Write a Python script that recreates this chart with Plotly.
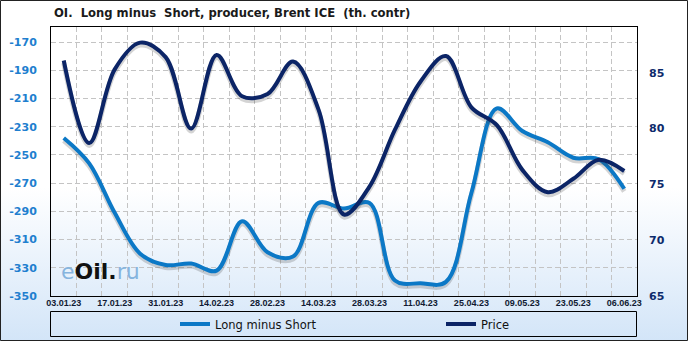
import base64
import plotly.graph_objects as go

# ---------------- data ----------------
dates = ["03.01.23", "10.01.23", "17.01.23", "24.01.23", "31.01.23", "07.02.23",
         "14.02.23", "21.02.23", "28.02.23", "07.03.23", "14.03.23", "21.03.23",
         "28.03.23", "04.04.23", "11.04.23", "18.04.23", "25.04.23", "02.05.23",
         "09.05.23", "16.05.23", "23.05.23", "30.05.23", "06.06.23"]
long_minus_short = [-238, -256, -291, -320, -328, -327, -332, -297, -319, -322,
                    -284, -288, -284, -339, -341, -340, -277, -217, -233, -241,
                    -252, -253, -274]
price = [86.1, 78.7, 85.3, 87.7, 86.4, 80.0, 86.6, 82.9, 83.1, 86.0, 81.7, 72.3,
         74.8, 79.9, 84.2, 86.5, 81.9, 80.3, 76.3, 74.3, 75.5, 77.2, 76.2]
left_ticks = [-350, -330, -310, -290, -270, -250, -230, -210, -190, -170]
left_ticktext = ["-350", "-330", "-310", "-290", "-270", "-250", "-230", "-210", "-190", "-170"]
right_ticks = [65, 70, 75, 80, 85]

# ---------------- geometry ----------------
W, H = 688, 341
ML, MR, MT, MB = 51, 51, 27, 45
PW, PH = W - ML - MR, H - MT - MB
Y1 = (-350, -159.3)
Y2 = (65, 89.1)

def px(xp):
    return (xp - ML) / PW

def py(yp):
    return 1 - (yp - MT) / PH

LIGHT = "#0b78c6"
DARK = "#0b2466"
SHADOW = "rgba(60,60,60,0.22)"
shadow_px = 2.5
sh1 = shadow_px * (Y1[1] - Y1[0]) / PH
sh2 = shadow_px * (Y2[1] - Y2[0]) / PH

xi = list(range(len(dates)))

fig = go.Figure()
# soft drop shadows (style only)
fig.add_trace(go.Scatter(x=xi, y=[v - sh1 for v in long_minus_short], mode="lines",
                         line=dict(color=SHADOW, width=5, shape="spline", smoothing=1.0),
                         yaxis="y", showlegend=False, hoverinfo="skip"))
fig.add_trace(go.Scatter(x=xi, y=[v - sh2 for v in price], mode="lines",
                         line=dict(color=SHADOW, width=5, shape="spline", smoothing=1.0),
                         yaxis="y2", showlegend=False, hoverinfo="skip"))
fig.add_trace(go.Scatter(x=xi, y=long_minus_short, name="Long minus Short",
                         mode="lines", line=dict(color=LIGHT, width=4, shape="spline", smoothing=1.0),
                         yaxis="y", legend="legend"))
fig.add_trace(go.Scatter(x=xi, y=price, name="Price",
                         mode="lines", line=dict(color=DARK, width=4, shape="spline", smoothing=1.0),
                         yaxis="y2", legend="legend2"))

svg = f'''<svg xmlns="http://www.w3.org/2000/svg" width="{W}" height="{H}">
<defs><linearGradient id="g" x1="0" y1="0" x2="0" y2="1">
<stop offset="0" stop-color="#ffffff"/><stop offset="0.55" stop-color="#ffffff"/>
<stop offset="1" stop-color="#d3e5f8"/></linearGradient></defs>
<rect width="{W}" height="{H}" fill="url(#g)"/></svg>'''
src = "data:image/svg+xml;base64," + base64.b64encode(svg.encode()).decode()

gridc = "#c4c4c4"
legfont = dict(family="DejaVu Sans", size=11.5, color="#111111")
fig.update_layout(
    width=W, height=H,
    margin=dict(l=ML, r=MR, t=MT, b=MB, pad=0, autoexpand=False),
    paper_bgcolor="white",
    plot_bgcolor="rgba(0,0,0,0)",
    images=[dict(source=src, xref="paper", yref="paper", x=px(0), y=py(0),
                 sizex=W / PW, sizey=H / PH, sizing="stretch", xanchor="left",
                 yanchor="top", layer="below")],
    title=dict(text="OI.\u00a0 Long minus\u00a0 Short, producer, Brent ICE\u00a0 (th. contr)",
               xref="container", yref="container", x=54 / W, y=1 - 13 / H,
               xanchor="left", yanchor="middle",
               font=dict(family="DejaVu Sans", size=11.6, color="#1a1a1a", weight="bold")),
    xaxis=dict(range=[-0.5, len(dates) - 0.5], tickmode="array",
               tickvals=xi[::2], ticktext=dates[::2], showgrid=False, zeroline=False,
               showline=True, mirror=True, linecolor="black", linewidth=1,
               ticks="", ticklabelstandoff=-2,
               tickfont=dict(family="Liberation Sans", size=9, color="#111a33", weight="bold"),
               minor=dict(tickmode="array", tickvals=[i - 0.5 for i in range(len(dates) + 1)],
                          showgrid=True, gridcolor=gridc, griddash="5px,3px", gridwidth=1, ticks="")),
    yaxis=dict(range=list(Y1), tickmode="array", tickvals=left_ticks,
               ticktext=left_ticktext, showgrid=True, gridcolor=gridc, griddash="5px,3px",
               zeroline=False, showline=True, mirror=True, linecolor="black", linewidth=1,
               ticks="", ticklabelstandoff=11,
               tickfont=dict(family="DejaVu Sans", size=11, color="#1f7fcf", weight="bold")),
    yaxis2=dict(range=list(Y2), overlaying="y", side="right", tickmode="array",
                tickvals=right_ticks, showgrid=False, zeroline=False, showline=False,
                ticks="", ticklabelstandoff=11,
                tickfont=dict(family="DejaVu Sans", size=11, color="#0d2a6b", weight="bold")),
    showlegend=True,
    legend=dict(orientation="h", x=px(175), y=py(324), xanchor="left", yanchor="middle",
                bgcolor="rgba(0,0,0,0)", borderwidth=0, font=legfont),
    legend2=dict(orientation="h", x=px(441), y=py(324), xanchor="left", yanchor="middle",
                 bgcolor="rgba(0,0,0,0)", borderwidth=0, font=legfont),
    shapes=[
        dict(type="rect", xref="paper", yref="paper", x0=px(50.5), x1=px(636.5),
             y0=py(311.5), y1=py(336.5), line=dict(color="black", width=1),
             fillcolor="rgba(0,0,0,0)", layer="above"),
        dict(type="rect", xref="paper", yref="paper", x0=px(0.5), x1=px(W - 0.5),
             y0=py(0.5), y1=py(H - 0.5), line=dict(color="#222222", width=1),
             fillcolor="rgba(0,0,0,0)", layer="above"),
    ],
    annotations=[
        dict(text="<span style='color:#86b4de'>e</span><b style='color:#111111'>Oil.</b>"
                  "<span style='color:#86b4de'>ru</span>",
             xref="paper", yref="paper", x=px(59), y=py(271), xanchor="left", yanchor="middle",
             showarrow=False, font=dict(family="DejaVu Sans", size=22)),
    ],
)

fig.write_html("out.html")
